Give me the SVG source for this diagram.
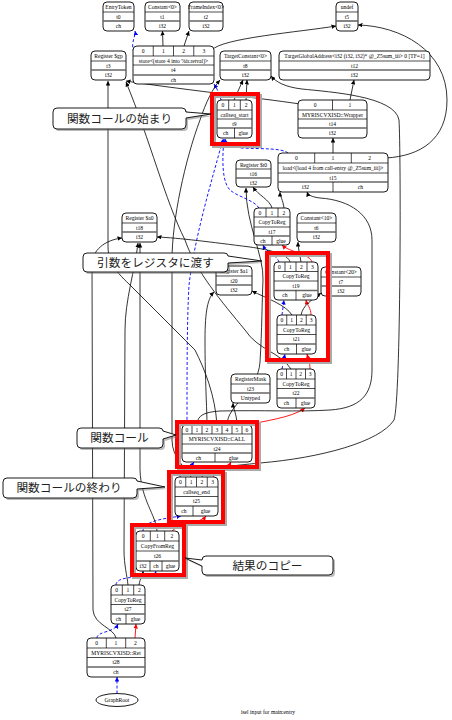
<svg xmlns="http://www.w3.org/2000/svg" width="452" height="720" viewBox="0 0 452 720">
<style>
.n{fill:#fff;stroke:#000;stroke-width:0.9}
.s{stroke:#000;stroke-width:0.7}
.g{stroke:#666;stroke-width:1.6}
.t{font-family:"Liberation Serif",serif;font-size:5.6px;text-anchor:middle;fill:#000}
.e{fill:none;stroke:#000;stroke-width:0.8}
.c{fill:none;stroke:#00f;stroke-width:0.9;stroke-dasharray:3,2}
.gl{fill:none;stroke:#f00;stroke-width:0.9}
.hl{fill:none;stroke:#f00;stroke-width:4}
.hs{fill:none;stroke:#aaa;stroke-width:4}
.cb{fill:#fff;stroke:#000;stroke-width:0.9}
.cs{fill:#777;opacity:0.5}
.ct{font-family:"Noto Sans CJK JP",sans-serif;font-size:11.7px;fill:#222;text-anchor:middle}
</style>
<defs>
<marker id="ab" viewBox="0 0 10 10" refX="10" refY="5" markerWidth="4.5" markerHeight="4.5" markerUnits="userSpaceOnUse" orient="auto"><path d="M0,0L10,5L0,10z" fill="#000"/></marker>
<marker id="au" viewBox="0 0 10 10" refX="10" refY="5" markerWidth="4.5" markerHeight="4.5" markerUnits="userSpaceOnUse" orient="auto"><path d="M0,0L10,5L0,10z" fill="#00f"/></marker>
<marker id="ar" viewBox="0 0 10 10" refX="10" refY="5" markerWidth="4.5" markerHeight="4.5" markerUnits="userSpaceOnUse" orient="auto"><path d="M0,0L10,5L0,10z" fill="#f00"/></marker>
</defs>
<rect width="452" height="720" fill="#fff"/>
<g id="connectors">
<g marker-end="url(#au)">
<path class="c" d="M134,52 C130,44 136,36 135,31"/>
<path class="c" d="M221,100 C220,94 217,89 214,84"/>
<path class="c" d="M288,153 C282,148 262,149 242,148 C230,147 226,144 225,139"/>
<path class="c" d="M259,208 C254,200 238,197 230,190 C222,182 222,160 224,139"/>
<path class="c" d="M187,425 C187,370 187,320 189,285 C195,235 212,180 223,139"/>
<path class="c" d="M279,262 C277,255 266,252 263,245"/>
<path class="c" d="M282,315 L284,300"/>
<path class="c" d="M282,369 L285,354"/>
<path class="c" d="M180,477 C181,470 190,468 194,462"/>
<path class="c" d="M143,531 C143,520 170,518 181,516"/>
<path class="c" d="M116,585 C116,578 130,577 145,577 C152,577 155,575 156,571"/>
<path class="c" d="M97,638 C97,631 114,633 118,624"/>
<path class="c" d="M117,693.5 L117,677"/>
</g>
<g marker-end="url(#ar)">
<path class="gl" d="M312,262 C310,254 289,252 282,245"/>
<path class="gl" d="M311,315 C311,308 307,305 306,300"/>
<path class="gl" d="M310,369 C310,362 308,358 307,354"/>
<path class="gl" d="M248,425 C262,421 292,418 305,408"/>
<path class="gl" d="M213,477 C218,472 228,468 231,462"/>
<path class="gl" d="M172,531 C178,524 200,524 206,516"/>
<path class="gl" d="M135,638 L136,624"/>
</g>
<g marker-end="url(#ab)">
<path class="e" d="M163,46 L162.5,31"/>
<path class="e" d="M184,46 L189,31"/>
<path class="e" d="M212,50 C222,38 300,32 336,26"/>
<path class="e" d="M234,100 L243,80"/>
<path class="e" d="M246,100 L247,80"/>
<path class="e" d="M300,104 C260,98 170,88 126,81"/>
<path class="e" d="M350,100 L354,80"/>
<path class="e" d="M333,153 L333,138"/>
<path class="e" d="M386,158 C420,156 447,140 447,100 C447,50 400,26 358,25"/>
<path class="e" d="M202,477 C205,468 230,466 260,463 C320,458 380,442 394,420 C401,400 401,150 399,120 C395,96 330,92 302,89 C285,87 276,82 271,76"/>
<path class="e" d="M191,477 C186,468 172,458 172,440 L172,260 C172,220 185,160 200,120 C206,102 213,88 220,80"/>
<path class="e" d="M272,208 C270,200 258,195 253,187"/>
<path class="e" d="M284,208 C283,200 280,196 280,192"/>
<path class="e" d="M290,262 C288,254 270,250 250,247 C210,242 180,238 157,237"/>
<path class="e" d="M301,262 C300,255 298,248 298,242"/>
<path class="e" d="M292,315 C286,305 266,298 252,291"/>
<path class="e" d="M301,315 C303,305 312,300 321,293"/>
<path class="e" d="M197,425 C197,415 205,412 220,411 C260,410 300,412 330,410 C360,408 372,395 372,370 L372,240 C372,215 350,200 320,198 C312,197 308,195 307,192"/>
<path class="e" d="M207,425 C207,410 205,380 205,340 C205,310 208,298 214,292"/>
<path class="e" d="M217,425 C215,395 205,370 195,350 L130,285 C112,268 108,260 108,245 L108,81"/>
<path class="e" d="M227,425 C227,405 258,392 260,362 C262,330 262,300 263,280 C264,255 246,225 246,188"/>
<path class="e" d="M237,425 C237,415 233,408 233,403"/>
<path class="e" d="M291,369 C280,352 258,350 245,330 C222,302 196,272 185,240 C165,200 150,140 126,82"/>
<path class="e" d="M157,531 C156,515 141,500 140,470 L140,243"/>
<path class="e" d="M128,585 C127,575 124,565 124,550 L125,330 C125,300 135,270 138,243"/>
<path class="e" d="M116,638 C114,628 94,625 93,610 L92,265 C92,250 105,240 122,238"/>
<path class="e" d="M139,585 C140,578 143,575 143,571"/>
</g>
</g>
<g id="n-t0"><rect class="n" x="103" y="2" width="31" height="29" rx="4"/><line class="s" x1="103" y1="12" x2="134" y2="12"/><line class="g" x1="103" y1="21" x2="134" y2="21"/><text class="t" x="118.5" y="9">EntryToken</text><text class="t" x="118.5" y="18.5">t0</text><text class="t" x="118.5" y="28">ch</text></g>
<g id="n-t1"><rect class="n" x="145" y="2" width="35" height="29" rx="4"/><line class="s" x1="145" y1="12" x2="180" y2="12"/><line class="g" x1="145" y1="21" x2="180" y2="21"/><text class="t" x="162.5" y="9">Constant&lt;0&gt;</text><text class="t" x="162.5" y="18.5">t1</text><text class="t" x="162.5" y="28">i32</text></g>
<g id="n-t2"><rect class="n" x="189" y="2" width="34" height="29" rx="4"/><line class="s" x1="189" y1="12" x2="223" y2="12"/><line class="g" x1="189" y1="21" x2="223" y2="21"/><text class="t" x="206" y="9">FrameIndex&lt;0&gt;</text><text class="t" x="206" y="18.5">t2</text><text class="t" x="206" y="28">i32</text></g>
<g id="n-t5"><rect class="n" x="336" y="2" width="22" height="29" rx="4"/><line class="s" x1="336" y1="12" x2="358" y2="12"/><line class="g" x1="336" y1="21" x2="358" y2="21"/><text class="t" x="347" y="9">undef</text><text class="t" x="347" y="18.5">t5</text><text class="t" x="347" y="28">i32</text></g>
<g id="n-t3"><rect class="n" x="91" y="51" width="35" height="29" rx="4"/><line class="s" x1="91" y1="61" x2="126" y2="61"/><line class="g" x1="91" y1="70" x2="126" y2="70"/><text class="t" x="108.5" y="58">Register $gp</text><text class="t" x="108.5" y="67.5">t3</text><text class="t" x="108.5" y="77">i32</text></g>
<g id="n-t8"><rect class="n" x="220" y="51" width="51" height="29" rx="4"/><line class="s" x1="220" y1="61" x2="271" y2="61"/><line class="g" x1="220" y1="70" x2="271" y2="70"/><text class="t" x="245.5" y="58">TargetConstant&lt;0&gt;</text><text class="t" x="245.5" y="67.5">t8</text><text class="t" x="245.5" y="77">i32</text></g>
<g id="n-t12"><rect class="n" x="279" y="51" width="151" height="29" rx="4"/><line class="s" x1="279" y1="61" x2="430" y2="61"/><line class="g" x1="279" y1="70" x2="430" y2="70"/><text class="t" x="354.5" y="58">TargetGlobalAddress&lt;i32 (i32, i32)* @_Z5sum_iii&gt; 0 [TF=1]</text><text class="t" x="354.5" y="67.5">t12</text><text class="t" x="354.5" y="77">i32</text></g>
<g id="n-t4"><rect class="n" x="133" y="46" width="81" height="38" rx="4"/><line class="s" x1="133" y1="56" x2="214" y2="56"/><line class="s" x1="133" y1="65" x2="214" y2="65"/><line class="g" x1="133" y1="75" x2="214" y2="75"/><line class="s" x1="153.25" y1="46" x2="153.25" y2="56"/><line class="s" x1="173.5" y1="46" x2="173.5" y2="56"/><line class="s" x1="193.75" y1="46" x2="193.75" y2="56"/><text class="t" x="143.1" y="53">0</text><text class="t" x="163.4" y="53">1</text><text class="t" x="183.6" y="53">2</text><text class="t" x="203.9" y="53">3</text><text class="t" x="173.5" y="62.5">store&lt;(store 4 into %ir.retval)&gt;</text><text class="t" x="173.5" y="72">t4</text><text class="t" x="173.5" y="81.5">ch</text></g>
<g id="n-t9"><rect class="n" x="217" y="100" width="35" height="38" rx="4"/><line class="s" x1="217" y1="110" x2="252" y2="110"/><line class="s" x1="217" y1="119" x2="252" y2="119"/><line class="g" x1="217" y1="128" x2="252" y2="128"/><line class="s" x1="228.7" y1="100" x2="228.7" y2="110"/><line class="s" x1="240.3" y1="100" x2="240.3" y2="110"/><line class="s" x1="234.5" y1="128" x2="234.5" y2="138"/><text class="t" x="222.8" y="107">0</text><text class="t" x="234.5" y="107">1</text><text class="t" x="246.2" y="107">2</text><text class="t" x="234.5" y="116.5">callseq_start</text><text class="t" x="234.5" y="125.5">t9</text><text class="t" x="225.7" y="135">ch</text><text class="t" x="243.2" y="135">glue</text></g>
<g id="n-t14"><rect class="n" x="298" y="100" width="69" height="38" rx="4"/><line class="s" x1="298" y1="110" x2="367" y2="110"/><line class="s" x1="298" y1="119" x2="367" y2="119"/><line class="g" x1="298" y1="128" x2="367" y2="128"/><line class="s" x1="332.5" y1="100" x2="332.5" y2="110"/><text class="t" x="315.2" y="107">0</text><text class="t" x="349.8" y="107">1</text><text class="t" x="332.5" y="116.5">MYRISCVXISD::Wrapper</text><text class="t" x="332.5" y="125.5">t14</text><text class="t" x="332.5" y="135">i32</text></g>
<g id="n-t16"><rect class="n" x="236" y="160" width="35" height="27" rx="4"/><line class="s" x1="236" y1="169" x2="271" y2="169"/><line class="g" x1="236" y1="178" x2="271" y2="178"/><text class="t" x="253.5" y="166.5">Register $t0</text><text class="t" x="253.5" y="175.5">t16</text><text class="t" x="253.5" y="184.5">i32</text></g>
<g id="n-t15"><rect class="n" x="278" y="153" width="110" height="39" rx="4"/><line class="s" x1="278" y1="163" x2="388" y2="163"/><line class="s" x1="278" y1="173" x2="388" y2="173"/><line class="g" x1="278" y1="182" x2="388" y2="182"/><line class="s" x1="314.7" y1="153" x2="314.7" y2="163"/><line class="s" x1="351.3" y1="153" x2="351.3" y2="163"/><line class="s" x1="333" y1="182" x2="333" y2="192"/><text class="t" x="296.3" y="160">0</text><text class="t" x="333" y="160">1</text><text class="t" x="369.7" y="160">2</text><text class="t" x="333" y="170">load&lt;(load 4 from call-entry @_Z5sum_iii)&gt;</text><text class="t" x="333" y="179.5">t15</text><text class="t" x="305.5" y="189">i32</text><text class="t" x="360.5" y="189">ch</text></g>
<g id="n-t18"><rect class="n" x="122" y="213" width="35" height="29" rx="4"/><line class="s" x1="122" y1="223" x2="157" y2="223"/><line class="g" x1="122" y1="232" x2="157" y2="232"/><text class="t" x="139.5" y="220">Register $a0</text><text class="t" x="139.5" y="229.5">t18</text><text class="t" x="139.5" y="239">i32</text></g>
<g id="n-t17"><rect class="n" x="254" y="208" width="36" height="37" rx="4"/><line class="s" x1="254" y1="217" x2="290" y2="217"/><line class="s" x1="254" y1="227" x2="290" y2="227"/><line class="g" x1="254" y1="236" x2="290" y2="236"/><line class="s" x1="266" y1="208" x2="266" y2="217"/><line class="s" x1="278" y1="208" x2="278" y2="217"/><line class="s" x1="272" y1="236" x2="272" y2="245"/><text class="t" x="260" y="214.5">0</text><text class="t" x="272" y="214.5">1</text><text class="t" x="284" y="214.5">2</text><text class="t" x="272" y="224">CopyToReg</text><text class="t" x="272" y="233.5">t17</text><text class="t" x="263" y="242.5">ch</text><text class="t" x="281" y="242.5">glue</text></g>
<g id="n-t6"><rect class="n" x="297" y="213" width="39" height="29" rx="4"/><line class="s" x1="297" y1="223" x2="336" y2="223"/><line class="g" x1="297" y1="232" x2="336" y2="232"/><text class="t" x="316.5" y="220">Constant&lt;10&gt;</text><text class="t" x="316.5" y="229.5">t6</text><text class="t" x="316.5" y="239">i32</text></g>
<g id="n-t19"><rect class="n" x="274" y="262" width="44" height="38" rx="4"/><line class="s" x1="274" y1="271.5" x2="318" y2="271.5"/><line class="s" x1="274" y1="281" x2="318" y2="281"/><line class="g" x1="274" y1="290.5" x2="318" y2="290.5"/><line class="s" x1="285" y1="262" x2="285" y2="271.5"/><line class="s" x1="296" y1="262" x2="296" y2="271.5"/><line class="s" x1="307" y1="262" x2="307" y2="271.5"/><line class="s" x1="296" y1="290.5" x2="296" y2="300"/><text class="t" x="279.5" y="268.7">0</text><text class="t" x="290.5" y="268.7">1</text><text class="t" x="301.5" y="268.7">2</text><text class="t" x="312.5" y="268.7">3</text><text class="t" x="296" y="278.2">CopyToReg</text><text class="t" x="296" y="287.7">t19</text><text class="t" x="285" y="297.2">ch</text><text class="t" x="307" y="297.2">glue</text></g>
<g id="n-t20"><rect class="n" x="216" y="266" width="36" height="29" rx="4"/><line class="s" x1="216" y1="276" x2="252" y2="276"/><line class="g" x1="216" y1="285" x2="252" y2="285"/><text class="t" x="234" y="273">Register $a1</text><text class="t" x="234" y="282.5">t20</text><text class="t" x="234" y="292">i32</text></g>
<g id="n-t7"><rect class="n" x="321" y="267" width="40" height="29" rx="4"/><line class="s" x1="321" y1="277" x2="361" y2="277"/><line class="g" x1="321" y1="286" x2="361" y2="286"/><text class="t" x="341" y="274">Constant&lt;20&gt;</text><text class="t" x="341" y="283.5">t7</text><text class="t" x="341" y="293">i32</text></g>
<g id="n-t21"><rect class="n" x="277" y="315" width="39" height="39" rx="4"/><line class="s" x1="277" y1="325" x2="316" y2="325"/><line class="s" x1="277" y1="334.5" x2="316" y2="334.5"/><line class="g" x1="277" y1="344" x2="316" y2="344"/><line class="s" x1="286.75" y1="315" x2="286.75" y2="325"/><line class="s" x1="296.5" y1="315" x2="296.5" y2="325"/><line class="s" x1="306.25" y1="315" x2="306.25" y2="325"/><line class="s" x1="296.5" y1="344" x2="296.5" y2="354"/><text class="t" x="281.9" y="322">0</text><text class="t" x="291.6" y="322">1</text><text class="t" x="301.4" y="322">2</text><text class="t" x="311.1" y="322">3</text><text class="t" x="296.5" y="331.7">CopyToReg</text><text class="t" x="296.5" y="341.2">t21</text><text class="t" x="286.75" y="351">ch</text><text class="t" x="306.25" y="351">glue</text></g>
<g id="n-t23"><rect class="n" x="231" y="374" width="39" height="29" rx="4"/><line class="s" x1="231" y1="384" x2="270" y2="384"/><line class="g" x1="231" y1="393" x2="270" y2="393"/><text class="t" x="250.5" y="381">RegisterMask</text><text class="t" x="250.5" y="390.5">t23</text><text class="t" x="250.5" y="400">Untyped</text></g>
<g id="n-t22"><rect class="n" x="277" y="369" width="38" height="39" rx="4"/><line class="s" x1="277" y1="379" x2="315" y2="379"/><line class="s" x1="277" y1="388.5" x2="315" y2="388.5"/><line class="g" x1="277" y1="398" x2="315" y2="398"/><line class="s" x1="286.5" y1="369" x2="286.5" y2="379"/><line class="s" x1="296" y1="369" x2="296" y2="379"/><line class="s" x1="305.5" y1="369" x2="305.5" y2="379"/><line class="s" x1="296" y1="398" x2="296" y2="408"/><text class="t" x="281.75" y="376">0</text><text class="t" x="291.25" y="376">1</text><text class="t" x="300.75" y="376">2</text><text class="t" x="310.25" y="376">3</text><text class="t" x="296" y="385.7">CopyToReg</text><text class="t" x="296" y="395.2">t22</text><text class="t" x="286.5" y="405">ch</text><text class="t" x="305.5" y="405">glue</text></g>
<g id="n-t24"><rect class="n" x="182" y="425" width="70" height="37" rx="4"/><line class="s" x1="182" y1="434" x2="252" y2="434"/><line class="s" x1="182" y1="444" x2="252" y2="444"/><line class="g" x1="182" y1="453" x2="252" y2="453"/><line class="s" x1="192" y1="425" x2="192" y2="434"/><line class="s" x1="202" y1="425" x2="202" y2="434"/><line class="s" x1="212" y1="425" x2="212" y2="434"/><line class="s" x1="222" y1="425" x2="222" y2="434"/><line class="s" x1="232" y1="425" x2="232" y2="434"/><line class="s" x1="242" y1="425" x2="242" y2="434"/><line class="s" x1="215" y1="453" x2="215" y2="462"/><text class="t" x="187" y="431.5">0</text><text class="t" x="197" y="431.5">1</text><text class="t" x="207" y="431.5">2</text><text class="t" x="217" y="431.5">3</text><text class="t" x="227" y="431.5">4</text><text class="t" x="237" y="431.5">5</text><text class="t" x="247" y="431.5">6</text><text class="t" x="217" y="441">MYRISCVXISD::CALL</text><text class="t" x="217" y="450.5">t24</text><text class="t" x="198.5" y="459.5">ch</text><text class="t" x="233.5" y="459.5">glue</text></g>
<g id="n-t25"><rect class="n" x="175" y="477" width="43" height="39" rx="4"/><line class="s" x1="175" y1="487" x2="218" y2="487"/><line class="s" x1="175" y1="496.5" x2="218" y2="496.5"/><line class="g" x1="175" y1="506" x2="218" y2="506"/><line class="s" x1="185.75" y1="477" x2="185.75" y2="487"/><line class="s" x1="196.5" y1="477" x2="196.5" y2="487"/><line class="s" x1="207.25" y1="477" x2="207.25" y2="487"/><line class="s" x1="193" y1="506" x2="193" y2="516"/><text class="t" x="180.4" y="484">0</text><text class="t" x="191.1" y="484">1</text><text class="t" x="201.9" y="484">2</text><text class="t" x="212.6" y="484">3</text><text class="t" x="196.5" y="493.7">callseq_end</text><text class="t" x="196.5" y="503.2">t25</text><text class="t" x="184" y="513">ch</text><text class="t" x="205.5" y="513">glue</text></g>
<g id="n-t26"><rect class="n" x="136" y="531" width="43" height="40" rx="4"/><line class="s" x1="136" y1="541" x2="179" y2="541"/><line class="s" x1="136" y1="551" x2="179" y2="551"/><line class="g" x1="136" y1="561" x2="179" y2="561"/><line class="s" x1="150.3" y1="531" x2="150.3" y2="541"/><line class="s" x1="164.7" y1="531" x2="164.7" y2="541"/><line class="s" x1="150" y1="561" x2="150" y2="571"/><line class="s" x1="162" y1="561" x2="162" y2="571"/><text class="t" x="143.2" y="538">0</text><text class="t" x="157.5" y="538">1</text><text class="t" x="171.8" y="538">2</text><text class="t" x="157.5" y="548">CopyFromReg</text><text class="t" x="157.5" y="558">t26</text><text class="t" x="143" y="568">i32</text><text class="t" x="156" y="568">ch</text><text class="t" x="170.5" y="568">glue</text></g>
<g id="n-t27"><rect class="n" x="111" y="585" width="34" height="39" rx="4"/><line class="s" x1="111" y1="595" x2="145" y2="595"/><line class="s" x1="111" y1="604.5" x2="145" y2="604.5"/><line class="g" x1="111" y1="614" x2="145" y2="614"/><line class="s" x1="122.3" y1="585" x2="122.3" y2="595"/><line class="s" x1="133.7" y1="585" x2="133.7" y2="595"/><line class="s" x1="126" y1="614" x2="126" y2="624"/><text class="t" x="116.7" y="592">0</text><text class="t" x="128" y="592">1</text><text class="t" x="139.3" y="592">2</text><text class="t" x="128" y="601.7">CopyToReg</text><text class="t" x="128" y="611.2">t27</text><text class="t" x="118.5" y="621">ch</text><text class="t" x="135.5" y="621">glue</text></g>
<g id="n-t28"><rect class="n" x="87" y="638" width="58" height="39" rx="4"/><line class="s" x1="87" y1="648" x2="145" y2="648"/><line class="s" x1="87" y1="657.5" x2="145" y2="657.5"/><line class="g" x1="87" y1="667" x2="145" y2="667"/><line class="s" x1="106.3" y1="638" x2="106.3" y2="648"/><line class="s" x1="125.7" y1="638" x2="125.7" y2="648"/><text class="t" x="96.7" y="645">0</text><text class="t" x="116" y="645">1</text><text class="t" x="135.3" y="645">2</text><text class="t" x="116" y="654.7">MYRISCVXISD::Ret</text><text class="t" x="116" y="664.2">t28</text><text class="t" x="116" y="674">ch</text></g>
<g id="n-root"><ellipse class="n" cx="117" cy="700" rx="21" ry="6.5"/><text class="t" x="117" y="702">GraphRoot</text></g>
<text class="t" x="268" y="714">isel input for main:entry</text>
<g id="highlights">
<rect class="hs" x="214" y="96" width="46" height="50"/><rect class="hl" x="212" y="94" width="46" height="50"/>
<rect class="hs" x="269" y="255" width="61" height="107"/><rect class="hl" x="267" y="253" width="61" height="107"/>
<rect class="hs" x="179" y="424" width="80" height="45"/><rect class="hl" x="177" y="422" width="80" height="45"/>
<rect class="hs" x="171" y="474" width="54" height="50"/><rect class="hl" x="169" y="472" width="54" height="50"/>
<rect class="hs" x="134" y="527" width="52" height="50"/><rect class="hl" x="132" y="525" width="52" height="50"/>
</g>
<g id="callout-1"><path class="cs" transform="translate(2,2)" d="M57,108 H182 Q186,108 186,112 L211,114 L186,118 V125 Q186,129 182,129 H57 Q53,129 53,125 V112 Q53,108 57,108 Z"/><path class="cb" d="M57,108 H182 Q186,108 186,112 L211,114 L186,118 V125 Q186,129 182,129 H57 Q53,129 53,125 V112 Q53,108 57,108 Z"/><text class="ct" x="119.5" y="122.8">関数コールの始まり</text></g>
<g id="callout-2"><path class="cs" transform="translate(2,2)" d="M87,253 H224 Q228,253 228,256 L262,261 L228,263 V268 Q228,272 224,272 H87 Q83,272 83,268 V257 Q83,253 87,253 Z"/><path class="cb" d="M87,253 H224 Q228,253 228,256 L262,261 L228,263 V268 Q228,272 224,272 H87 Q83,272 83,268 V257 Q83,253 87,253 Z"/><text class="ct" x="155.5" y="266.8">引数をレジスタに渡す</text></g>
<g id="callout-3"><path class="cs" transform="translate(2,2)" d="M81,428 H159 Q163,428 163,431 L176,435 L163,439 V444 Q163,448 159,448 H81 Q77,448 77,444 V432 Q77,428 81,428 Z"/><path class="cb" d="M81,428 H159 Q163,428 163,431 L176,435 L163,439 V444 Q163,448 159,448 H81 Q77,448 77,444 V432 Q77,428 81,428 Z"/><text class="ct" x="119.5" y="442.3">関数コール</text></g>
<g id="callout-4"><path class="cs" transform="translate(2,2)" d="M7,478 H133 Q137,478 137,481 L165,487 L137,489 V494 Q137,498 133,498 H7 Q3,498 3,494 V482 Q3,478 7,478 Z"/><path class="cb" d="M7,478 H133 Q137,478 137,481 L165,487 L137,489 V494 Q137,498 133,498 H7 Q3,498 3,494 V482 Q3,478 7,478 Z"/><text class="ct" x="69" y="492.3">関数コールの終わり</text></g>
<g id="callout-5"><path class="cs" transform="translate(2,2)" d="M206,556 H329 Q333,556 333,560 V571 Q333,575 329,575 H206 Q202,575 202,571 V566 L185,558 L202,560 Q202,556 206,556 Z"/><path class="cb" d="M206,556 H329 Q333,556 333,560 V571 Q333,575 329,575 H206 Q202,575 202,571 V566 L185,558 L202,560 Q202,556 206,556 Z"/><text class="ct" x="267.5" y="569.8">結果のコピー</text></g>
</svg>
